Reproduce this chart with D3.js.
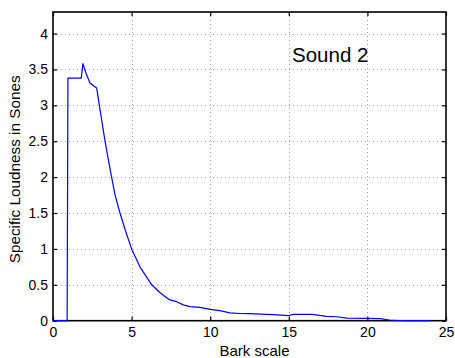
<!DOCTYPE html>
<html>
<head>
<meta charset="utf-8">
<script src="https://cdn.jsdelivr.net/npm/d3@7"></script>
<style>
  html, body { margin: 0; padding: 0; background: #fff; }
  svg { display: block; }
  text { font-family: "Liberation Sans", Arial, Helvetica, sans-serif; fill: #000; }
</style>
</head>
<body>
<svg id="chart" width="455" height="358"></svg>
<script>
// Specific loudness over the critical-band rate (Bark)
const bark = [0, 0.9, 0.95, 1.8, 1.9, 2.1, 2.35, 2.6, 2.78, 2.95, 3.31, 3.55, 3.71, 3.94,
  4.26, 4.6, 5.0, 5.53, 6.28, 6.76, 7.1, 7.44, 7.87, 8.29, 8.71, 9.35, 9.99, 10.6,
  11.26, 11.9, 12.5, 13.2, 14.0, 15.0, 15.3, 16.5, 17.4, 18.05, 18.7, 19.95, 20.8,
  21.4, 22.05, 22.5, 24];
const sones = [0, 0, 3.38, 3.38, 3.58, 3.45, 3.31, 3.27, 3.24, 3.0, 2.5, 2.21, 2.02, 1.76,
  1.5, 1.26, 1.0, 0.75, 0.5, 0.40, 0.34, 0.29, 0.265, 0.22, 0.195, 0.186, 0.158, 0.14,
  0.11, 0.10, 0.098, 0.092, 0.085, 0.072, 0.088, 0.088, 0.06, 0.055, 0.037, 0.033, 0.03,
  0.01, 0.003, 0, 0];

const xTicks = [0, 5, 10, 15, 20, 25];
const yTicks = [0, 0.5, 1, 1.5, 2, 2.5, 3, 3.5, 4];
const xDomain = [0, 25];
const yDomain = [0, 4.3];
const title = "Sound 2";
const xLabel = "Bark scale";
const yLabel = "Specific Loudness in Sones";

const svg = d3.select("#chart");
const L = 53, R = 446, T = 12, B = 320.7;

const x = d3.scaleLinear().domain(xDomain).range([L, R]);
const y = d3.scaleLinear().domain(yDomain).range([B, T]);

// dotted grid
const grid = svg.append("g")
  .attr("stroke", "#a0a0a0").attr("stroke-width", 1).attr("stroke-dasharray", "1,3");
grid.selectAll("line.gx").data(xTicks.slice(1, -1)).join("line")
  .attr("x1", d => Math.round(x(d)) + 0.5).attr("x2", d => Math.round(x(d)) + 0.5)
  .attr("y1", T).attr("y2", B);
grid.selectAll("line.gy").data(yTicks.slice(1)).join("line")
  .attr("y1", d => Math.round(y(d)) + 0.5).attr("y2", d => Math.round(y(d)) + 0.5)
  .attr("x1", L).attr("x2", R);

// axes with inward ticks on all four sides
const tick = 4;
const fmt = d => String(d);
svg.append("g").attr("transform", `translate(0,${B})`)
  .call(d3.axisBottom(x).tickValues(xTicks).tickSize(-tick).tickPadding(6).tickFormat(fmt))
  .call(g => g.select(".domain").remove())
  .call(g => g.selectAll("text").attr("font-size", 14).attr("font-family", "Liberation Sans, Arial, sans-serif").attr("dy", "0.71em"));
svg.append("g").attr("transform", `translate(0,${T})`)
  .call(d3.axisTop(x).tickValues(xTicks).tickSize(-tick).tickFormat(""))
  .call(g => g.select(".domain").remove());
svg.append("g").attr("transform", `translate(${L},0)`)
  .call(d3.axisLeft(y).tickValues(yTicks).tickSize(-tick).tickPadding(5).tickFormat(fmt))
  .call(g => g.select(".domain").remove())
  .call(g => g.selectAll("text").attr("font-size", 14).attr("font-family", "Liberation Sans, Arial, sans-serif"));
svg.append("g").attr("transform", `translate(${R},0)`)
  .call(d3.axisRight(y).tickValues(yTicks).tickSize(-tick).tickFormat(""))
  .call(g => g.select(".domain").remove());
svg.selectAll(".tick line").attr("stroke", "#000").attr("stroke-width", 1.2);

// frame
svg.append("rect").attr("x", L).attr("y", T).attr("width", R - L).attr("height", B - T)
  .attr("fill", "none").attr("stroke", "#000").attr("stroke-width", 1.6);

// loudness curve, drawn over the frame so the zero stretches stay visible
const line = d3.line().x((d, i) => x(bark[i])).y(d => y(d));
svg.append("path").datum(sones)
  .attr("d", line)
  .attr("fill", "none").attr("stroke", "#0000ff").attr("stroke-width", 1.2)
  .attr("stroke-linejoin", "round");

// labels
svg.append("text").attr("x", 292).attr("y", 62).attr("font-size", 20.5).text(title);
svg.append("text").attr("x", (L + R) / 2 + 5).attr("y", 356).attr("text-anchor", "middle")
  .attr("font-size", 15).text(xLabel);
svg.append("text").attr("transform", `translate(19.5,${(T + B) / 2 + 3}) rotate(-90)`)
  .attr("text-anchor", "middle").attr("font-size", 15.3).text(yLabel);
</script>
</body>
</html>
